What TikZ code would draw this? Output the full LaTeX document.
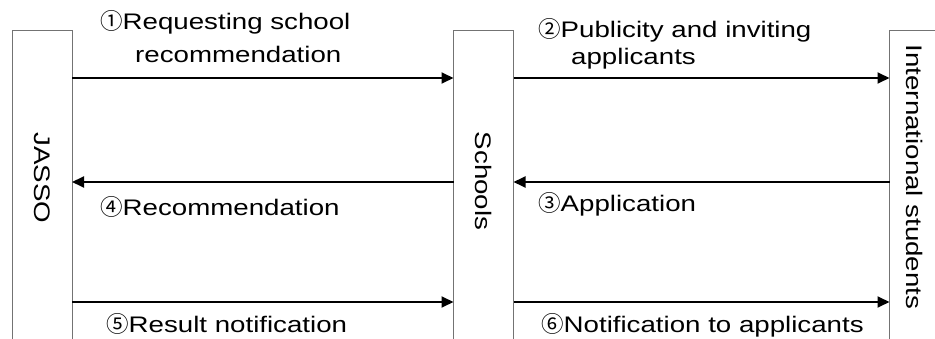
\documentclass[tikz,border=0pt]{standalone}
\usepackage{fontspec}
\setmainfont[FakeStretch=1.23]{Liberation Sans}
\newfontfamily\cjkfont{Noto Sans CJK JP}
\newcommand{\circnum}[1]{{\cjkfont #1}}
\usetikzlibrary{arrows.meta}
\begin{document}
\begin{tikzpicture}[x=1pt,y=-1pt,
  box/.style={draw=black!55, line width=0.9pt, minimum width=#1, minimum height=400pt, inner sep=0pt, outer sep=0pt, anchor=north west},
  flow/.style={line width=1.8pt, -{Triangle[length=12pt,width=11pt]}},
  lbl/.style={font=\fontsize{22.5}{27}\selectfont, inner sep=0pt, anchor=base west},
  vlbl/.style={font=\fontsize{22.5}{27}\selectfont, inner sep=0pt, rotate=-90}]
\useasboundingbox (0,0) rectangle (935,339);
\clip (0,0) rectangle (935,339);
\node[box=59.5pt] (jb) at (12.5,30) {};
\node[box=60pt] (sb) at (453.5,30) {};
\node[box=80pt] (ib) at (889.5,30) {};
\node[vlbl] (jasso) at (42,178) {JASSO};
\node[vlbl] (schools) at (484,181) {Schools};
\node[vlbl] (intl) at (915,177) {International students};
\coordinate (r1) at (0,78);
\coordinate (r2) at (0,182);
\coordinate (r3) at (0,302);
\draw[flow] (jb.east |- r1) -- (sb.west |- r1);
\draw[flow] (sb.east |- r1) -- (ib.west |- r1);
\draw[flow] (ib.west |- r2) -- (sb.east |- r2);
\draw[flow] (sb.west |- r2) -- (jb.east |- r2);
\draw[flow] (jb.east |- r3) -- (sb.west |- r3);
\draw[flow] (sb.east |- r3) -- (ib.west |- r3);
\node[lbl] (l1a) at (100,30) {\circnum{①}Requesting school};
\node[lbl] (l1b) at (135,63) {recommendation};
\node[lbl] (l2a) at (538,38) {\circnum{②}Publicity and inviting};
\node[lbl] (l2b) at (571,65) {applicants};
\node[lbl] (l3) at (538,212) {\circnum{③}Application};
\node[lbl] (l4) at (100,216) {\circnum{④}Recommendation};
\node[lbl] (l5) at (106,333) {\circnum{⑤}Result notification};
\node[lbl] (l6) at (541,333) {\circnum{⑥}Notification to applicants};
\end{tikzpicture}
\end{document}
